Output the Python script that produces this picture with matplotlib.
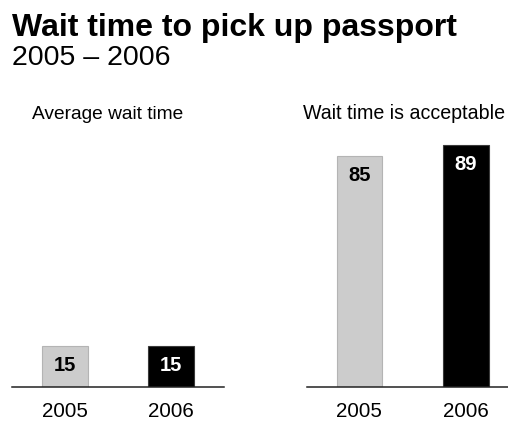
import matplotlib.pyplot as plt

years = ["2005", "2006"]
avg_wait = [15, 15]
acceptable = [85, 89]
panel_titles = ["Average wait time", "Wait time is acceptable"]

bar_colors = ["#cccccc", "#000000"]
edge_colors = ["#b4b4b4", "#3a3a3a"]
label_colors = ["black", "white"]

plt.rcParams["font.family"] = ["Liberation Sans", "DejaVu Sans"]

W, H = 508, 422
fig = plt.figure(figsize=(W / 100, H / 100), dpi=100)

fig.text(12 / W, 1 - 36 / H, "Wait time to pick up passport", fontsize=23,
         fontweight="bold", va="baseline", ha="left")
fig.text(12 / W, 1 - 65 / H, "2005 \u2013 2006", fontsize=20.5,
         va="baseline", ha="left")

# axes boxes in pixels: left, right edge of the baseline; both share one y scale
boxes = [(12, 224), (307, 508)]
xlims = [(-0.5, 1.5), (-0.492, 1.394)]
title_x = [32, 303]
title_size = [13.8, 14.1]
bottom, top = 387, 115   # 0..100 over 272 px

for (x0, x1), xl, vals, title, tx, ts in zip(boxes, xlims, [avg_wait, acceptable],
                                             panel_titles, title_x, title_size):
    ax = fig.add_axes([x0 / W, 1 - bottom / H, (x1 - x0) / W, (bottom - top) / H])
    x = range(len(years))
    ax.bar(x, vals, width=0.43, color=bar_colors, edgecolor=edge_colors, linewidth=0.8)
    for xi, v, c in zip(x, vals, label_colors):
        ax.annotate(str(v), (xi, v), xytext=(0, -18), textcoords="offset points",
                    ha="center", va="baseline", fontsize=14.5, fontweight="bold", color=c)
    ax.set_xlim(*xl)
    ax.set_ylim(0, 100)
    ax.set_xticks(list(x))
    ax.set_xticklabels(years, fontsize=14.8)
    ax.tick_params(axis="x", length=0, pad=11)
    ax.set_yticks([])
    for s in ["top", "left", "right"]:
        ax.spines[s].set_visible(False)
    ax.spines["bottom"].set_linewidth(1.1)
    ax.spines["bottom"].set_color("#222222")
    fig.text(tx / W, 1 - 119 / H, title, fontsize=ts, ha="left", va="baseline")

fig.savefig("out.png", dpi=100)
